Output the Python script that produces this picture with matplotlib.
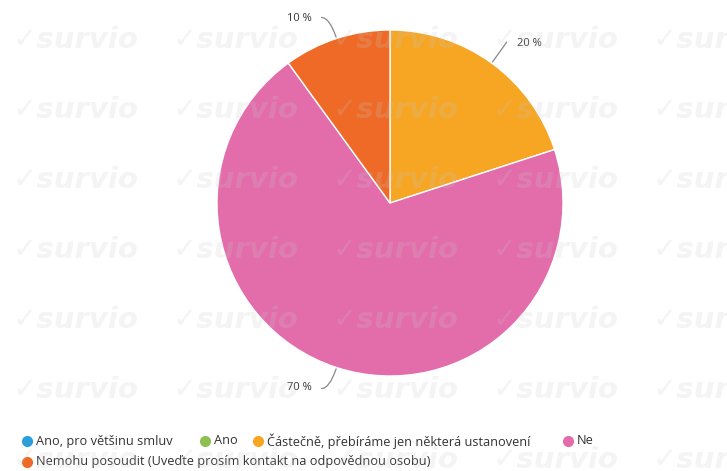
import numpy as np
import matplotlib
matplotlib.use("Agg")
from matplotlib import pyplot as plt
from matplotlib.lines import Line2D

# data
categories = ["Ano, pro většinu smluv", "Ano", "Částečně, přebíráme jen některá ustanovení",
              "Ne", "Nemohu posoudit (Uveďte prosím kontakt na odpovědnou osobu)"]
shares = [0, 0, 20, 70, 10]
colors = ["#2b9fd9", "#8cc152", "#f6a623", "#e36cab", "#ee6a26"]

plt.rcParams['font.family'] = ['Open Sans', 'DejaVu Sans']

W, H = 727, 471
fig = plt.figure(figsize=(W / 100, H / 100), dpi=100)

# pie axes: centre (390, 203) px, radius 173 px
cx, cy, r = 390, 203, 173
ax = fig.add_axes([(cx - r) / W, (H - cy - r) / H, 2 * r / W, 2 * r / H])
ax.patch.set_alpha(0)

vals = [v for v in shares if v > 0]
cols = [c for v, c in zip(shares, colors) if v > 0]
wedges, _ = ax.pie(vals, colors=cols, startangle=90, counterclock=False, radius=1,
                   wedgeprops=dict(edgecolor="white", linewidth=1))
ax.set_xlim(-1, 1)
ax.set_ylim(-1, 1)
ax.set_aspect('equal')
ax.axis('off')

# labels with curved connectors (offsets in px converted to axes units)
px = 1 / r
for w, v in zip(wedges, vals):
    mid = np.deg2rad((w.theta1 + w.theta2) / 2)
    x0, y0 = np.cos(mid), np.sin(mid)
    side = 1 if x0 > 0 else -1
    ex = x0 + side * 15 * px
    ey = y0 + np.sign(y0) * 21 * px
    ax.annotate("", xy=(x0, y0), xytext=(ex, ey), annotation_clip=False,
                arrowprops=dict(arrowstyle='-', color="#888888", lw=0.9,
                                shrinkA=0, shrinkB=1,
                                connectionstyle=f"angle3,angleA=0,angleB={np.rad2deg(mid):.0f}"))
    ax.text(ex + side * 10 * px, ey + np.sign(y0) * -1 * px, f"{v} %",
            ha='left' if side > 0 else 'right', va='center',
            fontsize=8, color="#333333", clip_on=False)

# watermark
for yy in np.arange(40, 471, 70):
    for xx in np.arange(13, 727, 160):
        fig.text(xx / W, 1 - yy / H, "✓survio", fontsize=21, fontweight='bold',
                 style='italic', family=['DejaVu Sans'], color="#c8c8c8", alpha=0.2,
                 va='center', ha='left', zorder=10, clip_on=True)

# legend
leg_rows = [(441, [27, 205, 258, 568]), (462, [27])]
k = 0
for ly, xs in leg_rows:
    for lx in xs:
        fig.add_artist(Line2D([lx / W], [1 - ly / H], marker='o', markersize=7,
                              color=colors[k], transform=fig.transFigure))
        fig.text((lx + 9) / W, 1 - ly / H, categories[k], fontsize=9.2, color="#333333",
                 va='center', ha='left')
        k += 1

fig.savefig("out.png", dpi=100)
